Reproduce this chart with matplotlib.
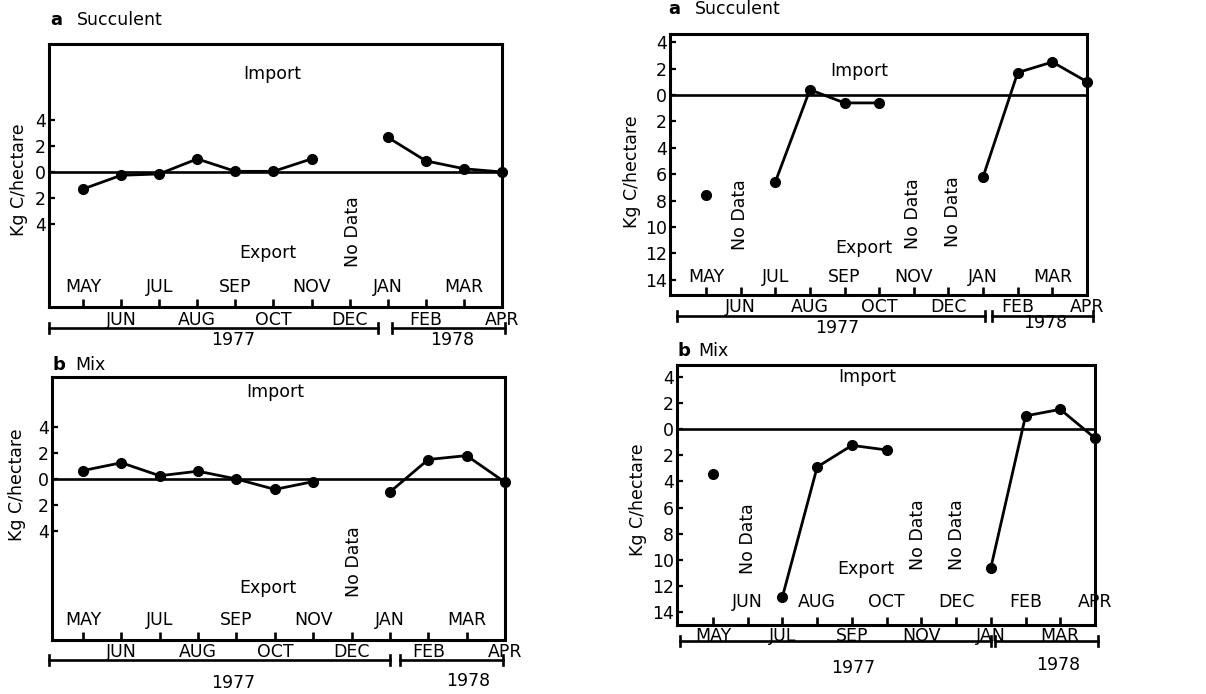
import numpy as np
import matplotlib
matplotlib.use("Agg")
import matplotlib.pyplot as plt
from matplotlib.lines import Line2D

plt.rcParams['font.family'] = ['DejaVu Sans']

nan = np.nan
months = ['MAY', 'JUN', 'JUL', 'AUG', 'SEP', 'OCT', 'NOV', 'DEC', 'JAN', 'FEB', 'MAR', 'APR']
# Net flux, Kg C/hectare (positive = import, negative = export)
succulent_left = [-1.3, -0.25, -0.15, 1.0, 0.05, 0.05, 1.0, nan, 2.65, 0.85, 0.25, 0.0]
mix_left = [0.65, 1.25, 0.25, 0.6, 0.0, -0.8, -0.2, nan, -1.0, 1.5, 1.8, -0.25]
succulent_right = [-7.6, nan, -6.6, 0.4, -0.6, -0.6, nan, nan, -6.2, 1.7, 2.5, 1.0]
mix_right = [-3.4, nan, -12.8, -2.9, -1.25, -1.6, nan, nan, -10.6, 1.0, 1.5, -0.7]
no_data_left = ['DEC']
no_data_right = ['JUN', 'NOV', 'DEC']
yticks_left = [4, 2, 0, -2, -4]
yticks_right = [4, 2, 0, -2, -4, -6, -8, -10, -12, -14]
years = ['1977', '1978']

W, H = 1206, 694
fig = plt.figure(figsize=(W / 100, H / 100), dpi=100)


def fx(x):
    return x / W


def fy(y):
    return 1 - y / H


FS = 12.5

panels = [
    dict(box=(49, 44, 502, 307), may=83, apr=502, zero=172, unit=13.1,
         data=succulent_left, yt=yticks_left, nodata=no_data_left,
         letter='a', name='Succulent', title_xy=(50, 20), name_dx=27,
         ylabel_xy=(19, 180), imp=(272, 74), exp=(268, 253),
         nd_xy=[(353, 232)], inside_odd=True, in_off=20, out_off=13,
         ybar=328, seg=[(49, 378), (392, 505)], ylab=[(233, 340), (452, 340)]),
    dict(box=(52, 377, 505, 640), may=83, apr=505, zero=479, unit=13.0,
         data=mix_left, yt=yticks_left, nodata=no_data_left,
         letter='b', name='Mix', title_xy=(53, 365), name_dx=22,
         ylabel_xy=(17, 485), imp=(275, 392), exp=(268, 588),
         nd_xy=[(354, 562)], inside_odd=True, in_off=20, out_off=12,
         ybar=660, seg=[(49, 390), (400, 503)], ylab=[(233, 683), (468, 681)]),
    dict(box=(670, 34, 1087, 295), may=706, apr=1087, zero=95, unit=13.2,
         data=succulent_right, yt=yticks_right, nodata=no_data_right,
         letter='a', name='Succulent', title_xy=(668, 9), name_dx=27,
         ylabel_xy=(632, 172), imp=(859, 71), exp=(864, 248),
         nd_xy=[(740, 215), (913, 214), (953, 212)], inside_odd=True, in_off=18, out_off=12,
         ybar=316, seg=[(677, 985), (992, 1093)], ylab=[(837, 328), (1045, 323)]),
    dict(box=(677, 365, 1095, 625), may=713, apr=1095, zero=429, unit=13.1,
         data=mix_right, yt=yticks_right, nodata=no_data_right,
         letter='b', name='Mix', title_xy=(677, 351), name_dx=21,
         ylabel_xy=(638, 500), imp=(867, 377), exp=(866, 569),
         nd_xy=[(748, 539), (918, 535), (957, 535)], inside_odd=False, in_off=23, out_off=11,
         ybar=641, seg=[(680, 991), (995, 1098)], ylab=[(853, 668), (1058, 665)]),
]

x = np.arange(len(months))

for p in panels:
    l, t, r, b = p['box']
    ax = fig.add_axes([fx(l), fy(b), fx(r) - fx(l), fy(t) - fy(b)])
    sp = (p['apr'] - p['may']) / 11
    ax.set_xlim(-(p['may'] - l) / sp, (r - p['may']) / sp)
    ax.set_ylim(-(b - p['zero']) / p['unit'], (p['zero'] - t) / p['unit'])
    for s in ax.spines.values():
        s.set_linewidth(2.2)
    ax.axhline(0, color='black', lw=1.9, zorder=2)
    ax.plot(x, p['data'], color='black', lw=2.0, marker='o', ms=7, zorder=3,
            clip_on=False)
    ax.set_yticks(p['yt'])
    ax.set_yticklabels([str(abs(v)) for v in p['yt']], fontsize=FS)
    ax.set_xticks(x)
    ax.set_xticklabels([])
    ax.tick_params(axis='y', direction='in', length=4, width=1.6, pad=2)
    ax.tick_params(axis='x', direction='in', length=6, width=1.9)
    # month labels alternating inside / below
    for i, m in enumerate(months):
        inside = (i % 2 == 0) == p['inside_odd']
        xpix = p['may'] + i * sp
        if inside:
            ypix = b - p['in_off']
        else:
            ypix = b + p['out_off']
        fig.text(fx(xpix), fy(ypix), m, ha='center', va='center', fontsize=FS)
    # import / export
    fig.text(fx(p['imp'][0]), fy(p['imp'][1]), 'Import', ha='center', va='center', fontsize=FS)
    fig.text(fx(p['exp'][0]), fy(p['exp'][1]), 'Export', ha='center', va='center', fontsize=FS)
    for (nx, ny) in p['nd_xy']:
        fig.text(fx(nx), fy(ny), 'No Data', ha='center', va='center', rotation=90, fontsize=FS)
    # titles
    tx, ty = p['title_xy']
    fig.text(fx(tx), fy(ty), p['letter'], ha='left', va='center', fontsize=13, fontweight='bold')
    fig.text(fx(tx + p['name_dx']), fy(ty), p['name'], ha='left', va='center', fontsize=12.5)
    # y label
    fig.text(fx(p['ylabel_xy'][0]), fy(p['ylabel_xy'][1]), 'Kg C/hectare', rotation=90,
             ha='center', va='center', fontsize=FS)
    # year bars
    yb = p['ybar']
    for (x0, x1), (lx, ly), yr in zip(p['seg'], p['ylab'], years):
        fig.add_artist(Line2D([fx(x0), fx(x1)], [fy(yb), fy(yb)], color='black', lw=1.9))
        for xe in (x0, x1):
            fig.add_artist(Line2D([fx(xe), fx(xe)], [fy(yb - 5), fy(yb + 5)], color='black', lw=1.9))
        fig.text(fx(lx), fy(ly), yr, ha='center', va='center', fontsize=FS)

fig.savefig('out.png', dpi=100)
